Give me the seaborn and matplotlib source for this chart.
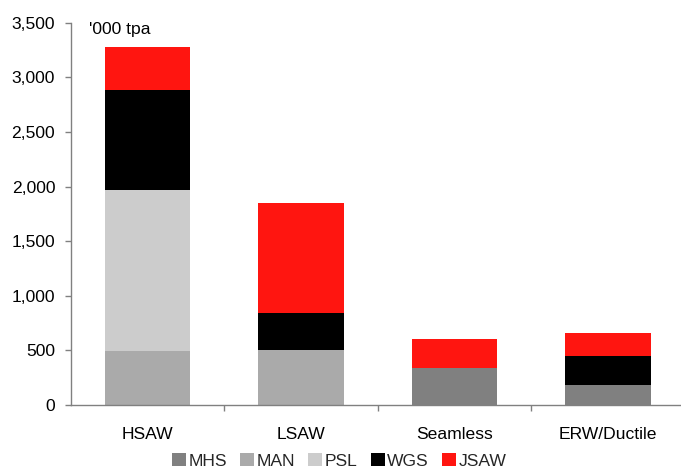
import numpy as np
import pandas as pd
import matplotlib
matplotlib.use("Agg")
import matplotlib.pyplot as plt
from matplotlib.patches import Patch
from matplotlib.ticker import FuncFormatter, FixedLocator
import seaborn as sns

# Pipe-making capacity by product, '000 tonnes per annum
categories = ["HSAW", "LSAW", "Seamless", "ERW/Ductile"]
series = ["MHS", "MAN", "PSL", "WGS", "JSAW"]
mhs = [0, 0, 340, 180]
man = [495, 500, 0, 0]
psl = [1470, 0, 0, 0]
wgs = [915, 340, 0, 270]
jsaw = [400, 1005, 260, 210]
colors = ["#808080", "#AAAAAA", "#CCCCCC", "#000000", "#FF1510"]

sns.set_theme(style="white")
plt.rcParams["font.family"] = ["Liberation Sans", "DejaVu Sans"]
FS = 12.6

values = np.array([mhs, man, psl, wgs, jsaw], dtype=float)
cumulative = values.cumsum(axis=0)

fig = plt.figure(figsize=(6.81, 4.68), dpi=100)
ax = fig.add_axes([0.104, 0.1346, 0.9016, 0.8169])

# Stacked bars: draw running totals from the top segment down
for i in range(len(series) - 1, -1, -1):
    df = pd.DataFrame({"category": categories, "total": cumulative[i]})
    sns.barplot(data=df, x="category", y="total", color=colors[i],
                saturation=1, width=0.555, ax=ax, linewidth=0)

ax.set_xlim(-0.5, 3.5)
ax.set_ylim(0, 3500)
ax.set_yticks(np.arange(0, 3501, 500))
ax.yaxis.set_major_formatter(FuncFormatter(lambda v, p: f"{v:,.0f}"))
ax.set_xlabel("")
ax.set_ylabel("")

for s in ["top", "right"]:
    ax.spines[s].set_visible(False)
for s in ["left", "bottom"]:
    ax.spines[s].set_color("#808080")
    ax.spines[s].set_linewidth(1.0)

ax.tick_params(axis="y", which="major", direction="out", length=4.3, width=1,
               color="#808080", pad=7, labelsize=FS, labelcolor="black", left=True)
ax.tick_params(axis="x", which="major", length=0, pad=16, labelsize=FS,
               labelcolor="black")
ax.xaxis.set_minor_locator(FixedLocator([0.5, 1.5, 2.5]))
ax.tick_params(axis="x", which="minor", direction="out", length=4, width=1,
               color="#808080", bottom=True)

ax.text(0.03, 0.982, "'000 tpa", transform=ax.transAxes, fontsize=FS,
        ha="left", va="center", color="black")

handles = [Patch(facecolor=c, edgecolor="none", label=s)
           for s, c in zip(series, colors)]
fig.legend(handles=handles, loc="center", bbox_to_anchor=(0.498, 0.0155),
           ncol=5, frameon=False, fontsize=FS, handlelength=0.8,
           handleheight=0.8, handletextpad=0.15, columnspacing=0.75,
           borderpad=0, borderaxespad=0)

fig.savefig("out.png", dpi=100)
